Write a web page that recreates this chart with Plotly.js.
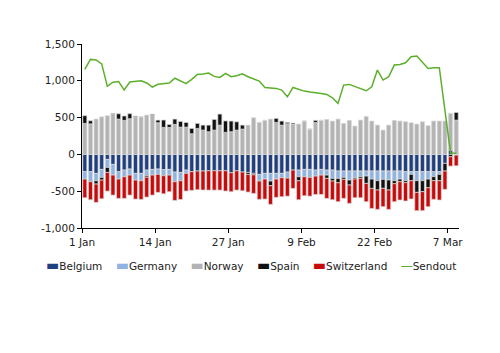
<!DOCTYPE html>
<html><head><meta charset="utf-8">
<script src="https://cdn.plot.ly/plotly-3.0.1.min.js"></script>
<style>html,body{margin:0;padding:0;background:#fff}#chart{width:500px;height:353px}</style>
</head><body><div id="chart"></div>
<script>
// Daily flows, 1 Jan – 8 Mar (67 days)
const startDate = '2023-01-01';
const tickDates = ['2023-01-01','2023-01-14','2023-01-27','2023-02-09','2023-02-22','2023-03-07'];
const tickLabels = ['1 Jan','14 Jan','27 Jan','9 Feb','22 Feb','7 Mar'];
const yTickVals = [-1000,-500,0,500,1000,1500];
const yTickText = ['-1,000','-500','0','500','1,000','1,500'];

const belgium = [-235,-235,-258,-204,-68,-136,-235,-213,-199,-258,-258,
  -213,-204,-199,-208,-204,-240,-245,-213,-235,-226,-226,
  -222,-222,-222,-222,-249,-222,-240,-245,-258,-272,-258,-258,
  -258,-258,-240,-213,-213,-204,-204,-213,-204,-213,-213,
  -226,-226,-226,-226,-226,-226,-226,-226,-226,-226,-226,-226,
  -235,-235,-235,-235,-235,-235,-235,-122,60,-10];
const germany = [-100,-136,-100,-109,-109,-145,-100,-91,-82,-91,-100,
  -77,-77,-72,-82,-77,-131,-113,-45,0,0,0,
  0,0,0,0,0,0,0,0,0,-90,-77,-104,
  -77,-59,-82,0,-90,-100,-109,-82,-77,-68,-113,
  -100,-86,-122,-91,-77,-68,-109,-131,-113,-122,-131,-109,
  -122,-36,-122,-122,-100,-68,-36,0,0,0];
const norway = [421,415,480,510,525,545,480,462,485,512,512,
  534,530,430,367,367,408,371,371,281,353,330,
  308,330,398,300,308,330,344,398,498,435,462,480,
  435,398,417,412,412,453,344,435,462,475,453,
  480,421,462,385,466,516,453,398,330,398,462,453,
  444,430,412,444,390,453,453,453,497,466];
const spain = [105,42,-45,-36,-68,10,72,60,68,9,0,
  -20,14,36,100,40,72,77,63,72,68,68,
  90,145,150,155,145,113,54,-27,-20,0,0,-63,
  54,55,18,14,-55,0,0,27,0,-45,-36,
  -59,-27,-68,-18,-23,-100,-127,-127,-122,-136,-41,-36,
  -27,-86,-159,-149,-118,-54,-86,-104,-32,104];
const switzerland = [-254,-245,-249,-254,-254,-272,-263,-294,-272,-258,-254,
  -270,-272,-245,-245,-226,-254,-254,-240,-254,-254,-258,
  -263,-263,-263,-276,-258,-263,-254,-240,-252,-249,-272,-254,
  -249,-258,-245,-249,-258,-258,-254,-249,-263,-272,-254,
  -258,-258,-249,-254,-263,-249,-272,-263,-249,-263,-245,-249,
  -249,-249,-249,-258,-258,-254,-263,-249,-127,-145];
const sendout = [1156,1291,1283,1230,925,981,990,877,984,989,1001,
  970,915,953,958,970,1035,1003,962,1020,1087,1093,
  1105,1060,1046,1100,1055,1069,1096,1055,1028,996,910,906,
  897,874,783,910,883,860,847,842,829,815,770,
  693,942,951,919,897,865,919,1146,1010,1055,1214,1223,
  1245,1327,1336,1259,1168,1178,1178,600,20,15];

const seriesNames = ['Belgium','Germany','Norway','Spain','Switzerland'];
const seriesColors = ['#1F3F7F','#8DB4E2','#B3B3B3','#111111','#C80A0A'];
const lineName = 'Sendout';
const lineColor = '#5BAF2A';

const dates = belgium.map((_, i) => {
  const d = new Date(startDate + 'T00:00:00Z');
  d.setUTCDate(d.getUTCDate() + i);
  return d.toISOString().slice(0, 10);
});

const seriesValues = [belgium, germany, norway, spain, switzerland];
const traces = seriesValues.map((vals, k) => ({
  type: 'bar', name: seriesNames[k], x: dates, y: vals,
  xperiod: 86400000, xperiodalignment: 'middle',
  marker: {color: seriesColors[k], line: {color: 'rgba(215,215,215,0.9)', width: 0.8}},
  showlegend: false, hoverinfo: 'x+y+name'
}));
traces.push({
  type: 'scatter', mode: 'lines', name: lineName, x: dates, y: sendout,
  xperiod: 86400000, xperiodalignment: 'middle',
  line: {color: lineColor, width: 1.5}, showlegend: false
});

// legend row as text
const sym = (c, ch, fs) => `<span style="color:${c};font-size:${fs}px">${ch}</span>`;
const legendText = seriesNames.map((n, k) => sym(seriesColors[k], '▬', 14) + n)
  .concat([sym(lineColor, '—', 12) + lineName]).join('&nbsp;&nbsp;&nbsp;&nbsp;');

const font = {family: 'DejaVu Sans, Verdana, sans-serif', size: 10.5, color: '#222'};
const layout = {
  width: 500, height: 353,
  margin: {l: 82, r: 41, t: 44, b: 125},
  paper_bgcolor: '#fff', plot_bgcolor: '#fff',
  font: font,
  barmode: 'relative', bargap: 0.28,
  xaxis: {
    type: 'date', range: ['2023-01-01', '2023-03-09'],
    tickvals: tickDates, ticktext: tickLabels,
    showgrid: false, zeroline: false, showline: true, linecolor: '#000', linewidth: 1,
    ticks: 'outside', ticklen: 4, tickcolor: '#000', tickfont: font
  },
  yaxis: {
    range: [-1000, 1500], tickvals: yTickVals, ticktext: yTickText,
    showgrid: false, zeroline: false, showline: true, linecolor: '#000', linewidth: 1,
    ticks: 'outside', ticklen: 4, tickcolor: '#000', tickfont: font
  },
  annotations: [{
    xref: 'paper', yref: 'paper', x: 0.447, y: -0.2, xanchor: 'center', yanchor: 'middle',
    text: legendText, showarrow: false, font: font
  }]
};
Plotly.newPlot('chart', traces, layout, {displayModeBar: false, staticPlot: true});
</script></body></html>
